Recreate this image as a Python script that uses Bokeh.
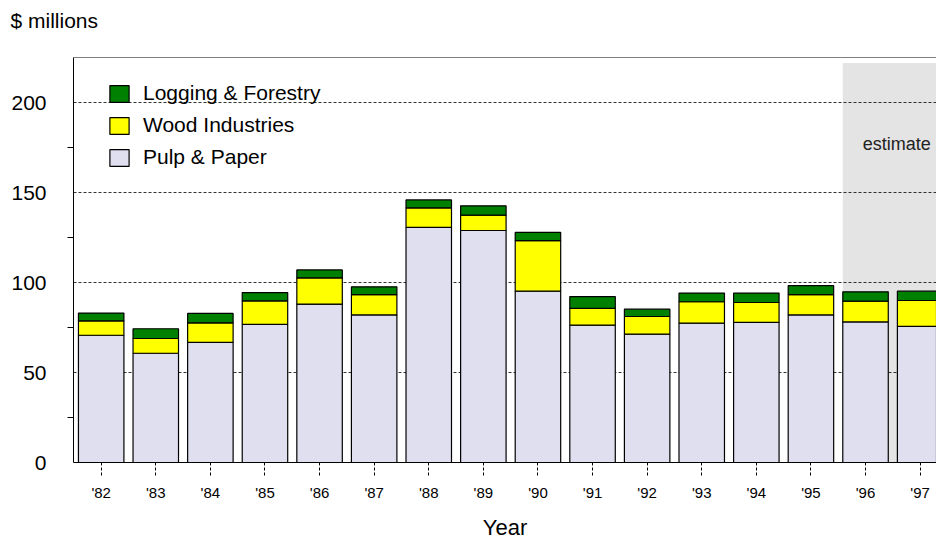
from bokeh.plotting import figure
from bokeh.layouts import column
from bokeh.models import (ColumnDataSource, Range1d, FixedTicker, Legend, LegendItem,
                          BoxAnnotation, Label, Span)
from bokeh.core.properties import value
from bokeh.embed import file_html
from bokeh.resources import INLINE

years = ["'82", "'83", "'84", "'85", "'86", "'87", "'88", "'89", "'90", "'91",
         "'92", "'93", "'94", "'95", "'96", "'97"]
pulp_paper = [70.7, 60.7, 66.7, 76.7, 88.0, 82.0, 130.6, 128.9, 95.2, 76.3,
              71.3, 77.4, 77.8, 82.0, 78.1, 75.6]
wood_industries = [8.0, 8.2, 10.9, 13.1, 14.6, 11.3, 10.9, 8.5, 28.1, 9.3,
                   9.8, 11.9, 11.1, 11.3, 11.5, 14.4]
logging_forestry = [4.3, 5.4, 5.2, 4.6, 4.4, 4.3, 4.4, 5.2, 4.5, 6.6,
                    4.1, 4.8, 5.2, 5.0, 5.2, 5.2]
estimate_years = ["'96", "'97"]
y_ticks = [0, 50, 100, 150, 200]
y_minor = [25, 75, 125, 175]
unit_caption = "$ millions"

FONT = "Liberation Sans"
BAR_W = 0.833
X_END = 15.3
HEADER_H = 36
x = list(range(len(years)))

# header strip carrying the unit caption
hdr = figure(width=936, height=HEADER_H, output_backend="svg", toolbar_location=None,
             x_range=Range1d(0, 936), y_range=Range1d(0, HEADER_H),
             x_axis_type=None, y_axis_type=None,
             min_border_left=0, min_border_right=0, min_border_top=0, min_border_bottom=0)
hdr.outline_line_color = None
hdr.grid.visible = False
hdr.title.text = ""
hdr.title.text_font_size = "0px"
hdr.title.standoff = 0
hdr.title.visible = False
hdr.text(x=[10], y=[HEADER_H - 20], text=[unit_caption], text_align="left",
         text_baseline="middle", text_font=value(FONT), text_font_size="21px",
         text_color="black")

src = ColumnDataSource(dict(x=x, pulp=pulp_paper, wood=wood_industries, log=logging_forestry))

p = figure(width=936, height=542 - HEADER_H, output_backend="svg", toolbar_location=None,
           x_range=Range1d(-0.507, X_END), y_range=Range1d(0, 225),
           min_border_left=73, min_border_right=0, min_border_top=57 - HEADER_H,
           min_border_bottom=80)
p.outline_line_color = None
p.background_fill_color = "white"
p.border_fill_color = "white"
p.title.text = ""
p.title.text_font_size = "0px"
p.title.standoff = 0
p.title.visible = False

# keep each figure's own frame (do not line the header up with the chart frame)
for fig in (hdr, p):
    try:
        fig.frame_align = False
    except Exception:
        pass

# estimate shading
est_start = years.index(estimate_years[0]) - BAR_W / 2
p.add_layout(BoxAnnotation(left=est_start, top=222, bottom=0, fill_color="#e4e4e4",
                           fill_alpha=1, line_color=None, level="image"))
p.add_layout(Label(x=14.57, y=177, text="estimate", text_align="center",
                   text_baseline="middle", text_font=FONT, text_font_size="18px",
                   text_color="#222222"))

rs = p.vbar_stack(["pulp", "wood", "log"], x="x", width=BAR_W, source=src,
                  fill_color=["#dfdfef", "#ffff00", "#008000"], line_color="black",
                  line_width=1.2)

# grid
p.xgrid.visible = False
p.ygrid.ticker = FixedTicker(ticks=[50, 100, 150, 200])
p.ygrid.grid_line_color = "black"
p.ygrid.grid_line_dash = "3 2"
p.ygrid.grid_line_width = 0.8

# top frame line
p.add_layout(Span(location=225, dimension="width", line_color="black", line_width=1))

# y axis
ya = p.yaxis[0]
ya.ticker = FixedTicker(ticks=y_ticks, minor_ticks=y_minor)
ya.major_tick_out = 0
ya.major_tick_in = 0
ya.minor_tick_out = 6
ya.minor_tick_in = 0
ya.minor_tick_line_color = "black"
ya.axis_line_color = "black"
ya.major_label_standoff = 21
ya.major_label_text_font = FONT
ya.major_label_text_font_size = "21px"
ya.major_label_text_color = "black"

# x axis
xa = p.xaxis[0]
xa.ticker = FixedTicker(ticks=x)
xa.major_label_overrides = {i: y for i, y in enumerate(years)}
xa.major_tick_in = 0
xa.major_tick_out = 13
xa.major_tick_line_dash = "3 2"
xa.major_tick_line_color = "black"
xa.minor_tick_line_color = None
xa.axis_line_color = "black"
xa.major_label_standoff = 8
xa.major_label_text_font = FONT
xa.major_label_text_font_size = "15px"
xa.major_label_text_color = "black"
xa.axis_label = "Year"
xa.axis_label_text_font = FONT
xa.axis_label_text_font_size = "22px"
xa.axis_label_text_font_style = "normal"
xa.axis_label_text_color = "black"
xa.axis_label_standoff = 11

legend = Legend(items=[LegendItem(label="Logging & Forestry", renderers=[rs[2]]),
                       LegendItem(label="Wood Industries", renderers=[rs[1]]),
                       LegendItem(label="Pulp & Paper", renderers=[rs[0]])],
                location=(34, 293), padding=0, margin=0, spacing=8,
                glyph_width=24, glyph_height=21, label_height=21, label_standoff=12,
                label_text_font=FONT, label_text_font_size="21px", label_text_color="black",
                border_line_color=None, background_fill_alpha=0)
p.add_layout(legend)

layout = column(hdr, p, spacing=0)
open("out.html", "w").write(file_html(layout, INLINE))
